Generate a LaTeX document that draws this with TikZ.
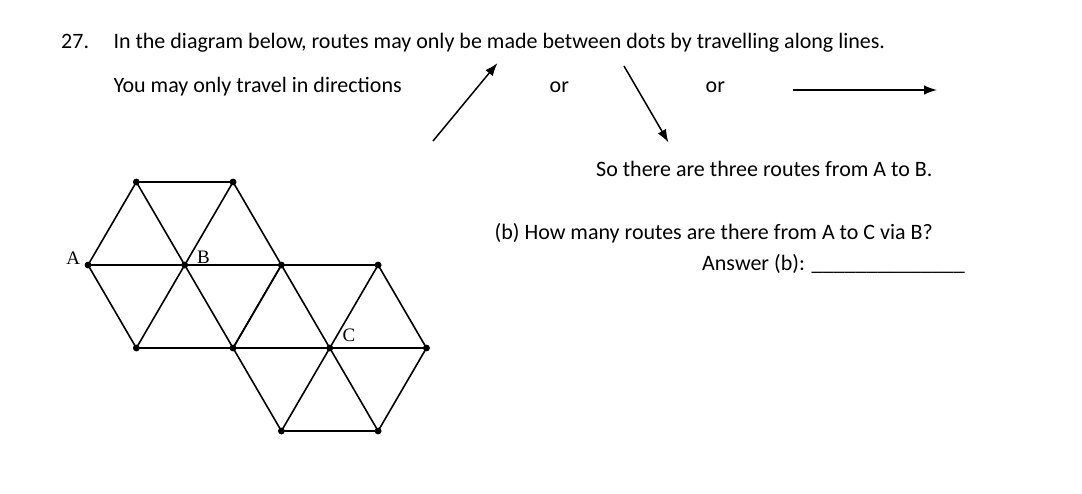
\documentclass[tikz,border=0pt]{standalone}
\usepackage{fontspec}
\setmainfont{Carlito}
\newfontfamily\lblfont{Liberation Serif}
\usetikzlibrary{arrows.meta}
\begin{document}
\begin{tikzpicture}[x=1pt,y=-1pt,
  txt/.style={anchor=base west,inner sep=0pt,font=\fontsize{22}{26}\selectfont},
  dot/.style={circle,fill=black,inner sep=0pt,minimum size=6.5pt},
  edge/.style={line width=1.6pt,black},
  lbl/.style={inner sep=0pt,font=\lblfont\fontsize{19}{22}\selectfont},
  dirarrow/.style={line width=1.5pt,-{Latex[length=13pt,width=9.5pt]}}]
\useasboundingbox[fill=white] (0,0) rectangle (1082,493);
% texts
\node[txt] (num) at (61,48.3) {27.};
\node[txt] (l1) at (113.3,48.3) {In the diagram below, routes may only be made between dots by travelling along lines.};
\node[txt] (l2) at (113.3,92) {You may only travel in directions};
\node[txt] (or1) at (549.5,92.4) {or};
\node[txt] (or2) at (705.5,92.4) {or};
\node[txt] (l3) at (596,176.7) {So there are three routes from A to B.};
\node[txt] (l4) at (494.5,239) {(b) How many routes are there from A to C via B?};
\node[txt] (l5) at (702,270.7) {Answer (b): \_\_\_\_\_\_\_\_\_\_\_\_\_\_};
% direction arrows
\coordinate (a1s) at (433,141);
\coordinate (a1e) at (497.5,63);
\coordinate (a2s) at (624,66);
\coordinate (a2e) at (668.5,142.5);
\coordinate (a3s) at (793,90);
\coordinate (a3e) at (937,90);
\draw[dirarrow] (a1s) -- (a1e);
\draw[dirarrow] (a2s) -- (a2e);
\draw[dirarrow] (a3s) -- (a3e);
% lattice vertices
\node[dot] (P1) at (136.35,182) {};
\node[dot] (P2) at (233.05,182) {};
\node[dot] (A) at (88,265) {};
\node[dot] (B) at (184.7,265) {};
\node[dot] (R2) at (281.4,265) {};
\node[dot] (R3) at (378.1,265) {};
\node[dot] (Q0) at (136.35,348) {};
\node[dot] (Q1) at (233.05,348) {};
\node[dot] (C) at (329.75,348) {};
\node[dot] (Q3) at (426.45,348) {};
\node[dot] (S0) at (281.4,431) {};
\node[dot] (S1) at (378.1,431) {};
% hexagon around B
\draw[edge] (A.center) -- (P1.center) -- (P2.center) -- (R2.center) -- (Q1.center) -- (Q0.center) -- (A.center);
\draw[edge] (B.center) -- (A.center);
\draw[edge] (B.center) -- (P1.center);
\draw[edge] (B.center) -- (P2.center);
\draw[edge] (B.center) -- (R2.center);
\draw[edge] (B.center) -- (Q1.center);
\draw[edge] (B.center) -- (Q0.center);
% hexagon around C
\draw[edge] (Q1.center) -- (R2.center) -- (R3.center) -- (Q3.center) -- (S1.center) -- (S0.center) -- (Q1.center);
\draw[edge] (C.center) -- (Q1.center);
\draw[edge] (C.center) -- (R2.center);
\draw[edge] (C.center) -- (R3.center);
\draw[edge] (C.center) -- (Q3.center);
\draw[edge] (C.center) -- (S1.center);
\draw[edge] (C.center) -- (S0.center);
% dots on top
\foreach \v in {P1,P2,A,B,R2,R3,Q0,Q1,C,Q3,S0,S1} \fill (\v.center) circle (3.3pt);
% labels
\node[lbl] (labA) at (73.3,258.7) {A};
\node[lbl] (labB) at (203.5,257.5) {B};
\node[lbl] (labC) at (349,335.3) {C};
\end{tikzpicture}
\end{document}
